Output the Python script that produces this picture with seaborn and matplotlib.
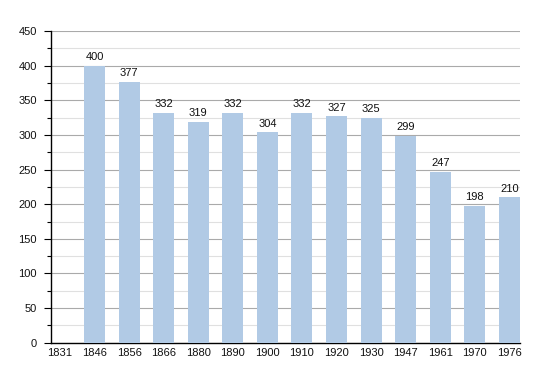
import numpy as np
import pandas as pd
import seaborn as sns
import matplotlib.pyplot as plt
from matplotlib.ticker import MultipleLocator

years = ["1831", "1846", "1856", "1866", "1880", "1890", "1900",
         "1910", "1920", "1930", "1947", "1961", "1970", "1976"]
population = [np.nan, 400, 377, 332, 319, 332, 304,
              332, 327, 325, 299, 247, 198, 210]

df = pd.DataFrame({"year": years, "pop": population})

sns.set_style("white")
plt.rcParams['font.family'] = ['Liberation Sans', 'DejaVu Sans']

fig = plt.figure(figsize=(5.5, 3.73), dpi=100)
ax = fig.add_axes([0.092, 0.081, 0.853, 0.836])

sns.barplot(data=df, x="year", y="pop", order=years, color="#b1cae5",
            saturation=1, width=0.61, linewidth=0, ax=ax, zorder=3)

for c in ax.containers:
    labels = ["" if np.isnan(v) else f"{int(v)}" for v in c.datavalues]
    ax.bar_label(c, labels=labels, padding=2.5, fontsize=8, color="#111111")

ax.set_ylim(0, 450)
ax.set_xlim(-0.27, 13.30)
ax.yaxis.set_major_locator(MultipleLocator(50))
ax.yaxis.set_minor_locator(MultipleLocator(25))
ax.grid(axis="y", which="major", color="#aaaaaa", linewidth=0.8, zorder=0)
ax.grid(axis="y", which="minor", color="#e0e0e0", linewidth=0.8, zorder=0)
ax.set_axisbelow(True)

for s in ["top", "right"]:
    ax.spines[s].set_visible(False)
ax.spines["left"].set_color("black")
ax.spines["bottom"].set_color("black")
ax.spines["left"].set_linewidth(1)
ax.spines["bottom"].set_linewidth(1)

ax.tick_params(axis="y", which="major", length=5, width=0.8, color="black",
               left=True, labelsize=8, pad=5, labelcolor="#111111")
ax.tick_params(axis="y", which="minor", length=3, width=0.8, color="black", left=True)
ax.tick_params(axis="x", length=0, labelsize=8, pad=4, labelcolor="#111111")

ax.set_xlabel("")
ax.set_ylabel("")

fig.savefig("out.png", dpi=100)
